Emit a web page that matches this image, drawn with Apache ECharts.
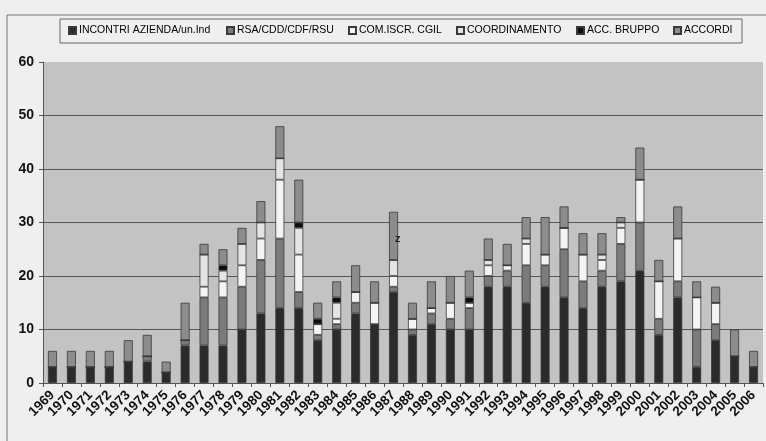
<!DOCTYPE html>
<html lang="it">
<head>
  <meta charset="UTF-8" />
  <title>Attività 1969-2006</title>
  <script src="https://cdn.jsdelivr.net/npm/echarts@6/dist/echarts.min.js"></script>
  <style>
    html, body {
      margin: 0;
      padding: 0;
      background: #efefef;
    }
    #chart {
      width: 766px;
      height: 441px;
    }
  </style>
</head>
<body>
  <div id="chart"></div>
  <script>
    const years = ['1969','1970','1971','1972','1973','1974','1975','1976','1977','1978',
      '1979','1980','1981','1982','1983','1984','1985','1986','1987','1988',
      '1989','1990','1991','1992','1993','1994','1995','1996','1997','1998',
      '1999','2000','2001','2002','2003','2004','2005','2006'];

    // valori, dal basso verso l'alto
    const incontri     = [3,3,3,3,4,4,2,7,7,7,10,13,14,14,8,10,13,11,17,9,11,10,10,18,18,15,18,16,14,18,19,21,9,16,3,8,5,3];
    const rsa          = [0,0,0,0,0,1,0,1,9,9,8,10,13,3,1,1,2,0,1,1,2,2,4,2,3,7,4,9,5,3,7,9,3,3,7,3,0,0];
    const comIscr      = [0,0,0,0,0,0,0,0,2,3,4,4,11,7,2,1,2,4,2,2,1,3,1,2,1,4,2,4,5,2,3,8,7,8,6,4,0,0];
    const coordinamento= [0,0,0,0,0,0,0,0,6,2,4,3,4,5,0,3,0,0,3,0,0,0,0,1,0,1,0,0,0,1,1,0,0,0,0,0,0,0];
    const accBruppo    = [0,0,0,0,0,0,0,0,0,1,0,0,0,1,1,1,0,0,0,0,0,0,1,0,0,0,0,0,0,0,0,0,0,0,0,0,0,0];
    const accordi      = [3,3,3,3,4,4,2,7,2,3,3,4,6,8,3,3,5,4,9,3,5,5,5,4,4,4,7,4,4,4,1,6,4,6,3,3,5,3];

    const yTicks = [0, 10, 20, 30, 40, 50, 60];
    const names = ['INCONTRI AZIENDA/un.Ind', 'RSA/CDD/CDF/RSU', 'COM.ISCR. CGIL', 'COORDINAMENTO', 'ACC. BRUPPO', 'ACCORDI'];

    const chart = echarts.init(document.getElementById('chart'));

    const font = 'Liberation Sans';
    const edge = { borderColor: '#3a3a3a', borderWidth: 0.8 };

    function bar(name, data, color) {
      return {
        name: name,
        type: 'bar',
        stack: 'tot',
        data: data,
        barWidth: 9,
        itemStyle: Object.assign({ color: color }, edge)
      };
    }

    // one legend per entry so the row spreads like the original box
    const legendLeft = [68, 226, 348, 456, 576, 673];
    const legends = names.map((n, i) => ({
      top: 25,
      left: legendLeft[i],
      itemWidth: 7,
      itemHeight: 7,
      itemGap: 0,
      padding: 0,
      icon: 'rect',
      textStyle: { fontFamily: font, fontSize: 10.5, color: '#000', padding: [0, 0, 0, -2] },
      data: [n]
    }));

    chart.setOption({
      animation: false,
      backgroundColor: '#efefef',
      graphic: [
        {
          type: 'rect',
          shape: { x: 7, y: 15, width: 800, height: 460 },
          style: { fill: 'none', stroke: '#777', lineWidth: 1 },
          z: -1
        },
        {
          type: 'rect',
          shape: { x: 60, y: 19, width: 682, height: 24 },
          style: { fill: 'none', stroke: '#666', lineWidth: 1 },
          z: -1
        },
        {
          type: 'text',
          left: 395,
          top: 233,
          style: { text: 'z', font: 'bold 11px Liberation Sans', fill: '#222' },
          z: 10
        }
      ],
      legend: legends,
      grid: {
        left: 43,
        right: 3,
        top: 62,
        bottom: 58,
        show: true,
        backgroundColor: '#c3c3c3',
        borderWidth: 0
      },
      xAxis: {
        type: 'category',
        data: years,
        axisLine: { lineStyle: { color: '#555', width: 1 } },
        axisTick: { show: true, length: 4, lineStyle: { color: '#555' } },
        axisLabel: {
          rotate: 45,
          interval: 0,
          margin: 10,
          fontFamily: font,
          fontWeight: 'bold',
          fontSize: 13.5,
          color: '#111'
        }
      },
      yAxis: {
        type: 'value',
        min: yTicks[0],
        max: yTicks[yTicks.length - 1],
        interval: 10,
        axisLine: { show: true, lineStyle: { color: '#555', width: 1 } },
        axisTick: { show: true, length: 4, lineStyle: { color: '#555' } },
        axisLabel: {
          margin: 9,
          fontFamily: font,
          fontWeight: 'bold',
          fontSize: 14,
          color: '#111'
        },
        splitLine: {
          lineStyle: {
            color: ['#555', '#555', '#555', '#555', '#555', '#555', 'rgba(0,0,0,0)'],
            width: 1
          }
        }
      },
      series: [
        bar(names[0], incontri, '#2b2b2b'),
        bar(names[1], rsa, '#7b7b7b'),
        bar(names[2], comIscr, '#f4f4f4'),
        bar(names[3], coordinamento, '#e4e4e4'),
        bar(names[4], accBruppo, '#0d0d0d'),
        bar(names[5], accordi, '#8c8c8c')
      ]
    });
  </script>
</body>
</html>
